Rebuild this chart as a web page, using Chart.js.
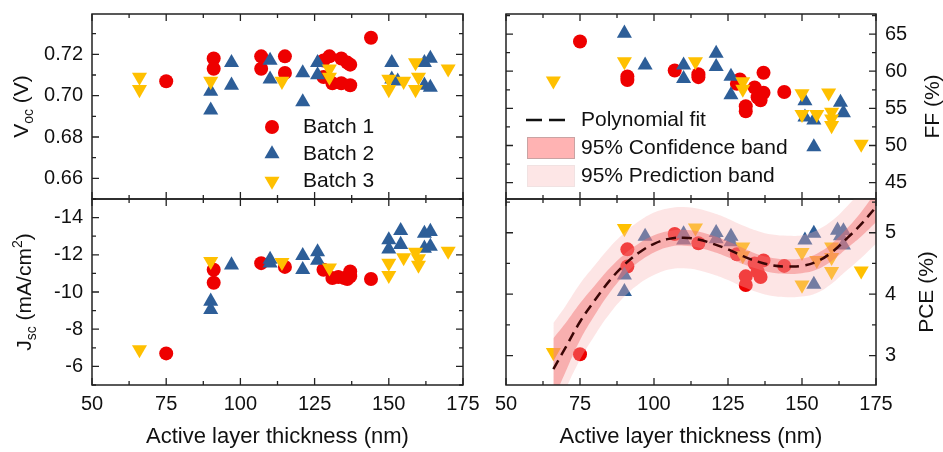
<!DOCTYPE html>
<html>
<head>
<meta charset="utf-8">
<title>Thickness series</title>
<script src="https://cdn.jsdelivr.net/npm/chart.js@4.4.0/dist/chart.umd.min.js"></script>
<style>
  body { margin: 0; background: #fff; }
  #wrap { position: relative; width: 943px; height: 452px; }
  #wrap canvas { position: absolute; left: 0; top: 0; }
</style>
</head>
<body>
<div id="wrap">
  <canvas id="voc-chart" width="943" height="452"></canvas>
  <canvas id="ff-chart" width="943" height="452"></canvas>
  <canvas id="jsc-chart" width="943" height="452"></canvas>
  <canvas id="pce-chart" width="943" height="452"></canvas>
</div>
<script>
// ---- data: [thickness (nm), value] ----
const batchNames = ['Batch 1', 'Batch 2', 'Batch 3'];

const voc1 = [[75,0.707],[91,0.718],[91,0.713],[107,0.719],[107,0.713],[115,0.719],[115,0.711],[128,0.717],[128,0.709],[130,0.719],[131,0.706],[134,0.718],[134,0.706],[136,0.716],[137,0.715],[137,0.705],[144,0.728]];
const voc2 = [[90,0.702],[90,0.693],[97,0.716],[97,0.705],[110,0.717],[110,0.708],[121,0.711],[121,0.697],[126,0.716],[126,0.710],[151,0.716],[151,0.708],[153,0.707],[162,0.716],[164,0.718],[162,0.705],[164,0.704]];
const voc3 = [[66,0.709],[66,0.703],[90,0.707],[114,0.707],[130,0.713],[130,0.709],[150,0.708],[150,0.703],[155,0.707],[159,0.716],[160,0.709],[159,0.703],[170,0.713]];

const ff1 = [[75,64],[91,59.3],[91,58.8],[107,60.1],[115,59.6],[115,59.2],[128,58.3],[129,58.9],[131,55.3],[131,54.6],[134,57.8],[135,56.5],[136,56.1],[137,59.8],[137,57.1],[144,57.2]];
const ff2 = [[90,65.1],[97,60.8],[110,60.8],[110,59],[121,62.4],[121,60.6],[126,59.3],[126,56.8],[151,56],[151,53.8],[154,53.4],[154,49.8],[163,55.8],[164,54.4]];
const ff3 = [[66,58.7],[90,61.3],[114,61.3],[130,58.6],[130,57.6],[150,57],[150,54.2],[155,54.2],[159,57.1],[160,54.5],[160,53.6],[160,52.7],[170,50.2]];

const jsc1 = [[75,-6.7],[91,-11.2],[91,-10.5],[107,-11.55],[115,-11.35],[128,-11.2],[131,-10.75],[133,-10.8],[135,-10.75],[136,-10.7],[137,-11.1],[137,-10.85],[144,-10.7]];
const jsc2 = [[90,-9.5],[90,-9.05],[97,-11.45],[110,-11.75],[110,-11.55],[121,-11.95],[121,-11.2],[126,-12.15],[126,-11.7],[150,-12.8],[150,-12.3],[154,-13.3],[154,-12.55],[162,-13.15],[164,-13.25],[162,-12.35],[164,-12.45]];
const jsc3 = [[66,-6.9],[90,-11.65],[114,-11.6],[130,-11.3],[150,-11.55],[150,-10.9],[155,-11.85],[159,-12.15],[160,-11.8],[160,-11.45],[170,-12.2]];

const pce1 = [[75,3.02],[91,4.73],[91,4.45],[107,4.98],[115,4.83],[128,4.65],[131,4.29],[131,4.15],[134,4.5],[135,4.37],[136,4.28],[137,4.55],[144,4.46]];
const pce2 = [[90,4.31],[90,4.04],[97,4.94],[110,4.98],[110,4.88],[121,5.0],[121,4.9],[126,4.94],[126,4.85],[151,4.88],[154,4.99],[154,4.16],[162,5.04],[164,5.03],[164,4.8],[163,4.95]];
const pce3 = [[66,3.05],[90,5.07],[114,5.08],[130,4.77],[130,4.63],[150,4.68],[150,4.15],[155,4.55],[160,4.77],[160,4.6],[160,4.37],[170,4.38]];

// polynomial fit and bands on PCE, sampled from the figure
const fitX      = [66, 70, 75, 80, 85, 90, 95, 100, 105, 110, 115, 120, 125, 130, 135, 140, 145, 150, 155, 160, 165, 170, 175];
const fitY      = [2.78, 3.12, 3.55, 3.9, 4.22, 4.48, 4.68, 4.82, 4.9, 4.92, 4.89, 4.82, 4.73, 4.62, 4.53, 4.47, 4.45, 4.46, 4.53, 4.68, 4.9, 5.14, 5.42];
const confUpper = [3.28, 3.52, 3.85, 4.14, 4.42, 4.65, 4.83, 4.96, 5.03, 5.05, 5.02, 4.95, 4.86, 4.75, 4.65, 4.59, 4.57, 4.58, 4.66, 4.82, 5.06, 5.34, 5.67];
const confLower = [2.28, 2.72, 3.25, 3.66, 4.02, 4.31, 4.53, 4.68, 4.77, 4.79, 4.76, 4.69, 4.6, 4.49, 4.41, 4.35, 4.33, 4.34, 4.4, 4.54, 4.74, 4.94, 5.17];
const predUpper = [3.53, 3.8, 4.17, 4.47, 4.76, 5.0, 5.19, 5.33, 5.4, 5.42, 5.39, 5.32, 5.23, 5.12, 5.03, 4.97, 4.95, 4.96, 5.04, 5.19, 5.42, 5.69, 6.02];
const predLower = [2.03, 2.44, 2.93, 3.33, 3.68, 3.96, 4.17, 4.31, 4.4, 4.42, 4.39, 4.32, 4.23, 4.12, 4.03, 3.97, 3.95, 3.96, 4.02, 4.17, 4.38, 4.59, 4.82];

// tick labels
const xTicks = [50, 75, 100, 125, 150, 175];
const vocTicks = [0.66, 0.68, 0.70, 0.72];
const jscTicks = [-14, -12, -10, -8, -6];
const ffTicks = [45, 50, 55, 60, 65];
const pceTicks = [3, 4, 5];

const FONT = 'Arial, "Liberation Sans", sans-serif';
const RED = '#ee0000';
const BLUE = '#2d5e98';
const YELLOW = '#ffc000';

function batchSets(d1, d2, d3) {
    return [
        { label: batchNames[0], data: d1, pointStyle: 'circle', pointRadius: 7, backgroundColor: RED, borderColor: RED, borderWidth: 0, order: 5 },
        { label: batchNames[1], data: d2, pointStyle: 'triangle', pointRadius: 8.7, backgroundColor: BLUE, borderColor: BLUE, borderWidth: 0, order: 4 },
        { label: batchNames[2], data: d3, pointStyle: 'triangle', pointRotation: 180, pointRadius: 8.7, backgroundColor: YELLOW, borderColor: YELLOW, borderWidth: 0, order: 3 }
    ];
}

function line(ys) {
    return fitX.map((x, i) => ({ x: x, y: ys[i] }));
}

function drawRich(ctx, parts, cx, cy, size) {
    ctx.save();
    ctx.translate(cx, cy);
    ctx.rotate(-Math.PI / 2);
    const small = Math.round(size * 0.68);
    let total = 0;
    parts.forEach(p => {
        ctx.font = ((p.sub || p.sup) ? small : size) + 'px ' + FONT;
        p.w = ctx.measureText(p.t).width;
        total += p.w;
    });
    let x = -total / 2;
    ctx.textAlign = 'left';
    ctx.textBaseline = 'alphabetic';
    parts.forEach(p => {
        ctx.font = ((p.sub || p.sup) ? small : size) + 'px ' + FONT;
        const dy = p.sub ? size * 0.25 : (p.sup ? -size * 0.4 : 0);
        ctx.fillText(p.t, x, size * 0.36 + dy);
        x += p.w;
    });
    ctx.restore();
}

// frame, inward ticks on all four sides, tick labels and titles
const panelPlugin = {
    id: 'panel',
    afterDraw(chart, args, o) {
        const ctx = chart.ctx;
        const a = chart.chartArea;
        const xs = chart.scales.x;
        const ys = chart.scales.y;
        ctx.save();
        ctx.strokeStyle = '#222';
        ctx.lineWidth = 1.3;
        ctx.beginPath();
        for (let v = 50; v <= 175.01; v += 12.5) {
            const p = xs.getPixelForValue(v);
            const len = xTicks.includes(v) ? 7 : 4;
            ctx.moveTo(p, a.bottom); ctx.lineTo(p, a.bottom - len);
            ctx.moveTo(p, a.top); ctx.lineTo(p, a.top + len);
        }
        const lo = Math.ceil(ys.min / o.yMinor - 1e-6), hi = Math.floor(ys.max / o.yMinor + 1e-6);
        for (let k = lo; k <= hi; k++) {
            const v = +(k * o.yMinor).toFixed(4);
            const p = ys.getPixelForValue(v);
            const len = o.yTicks.some(t => Math.abs(t - v) < 1e-6) ? 7 : 4;
            ctx.moveTo(a.left, p); ctx.lineTo(a.left + len, p);
            ctx.moveTo(a.right, p); ctx.lineTo(a.right - len, p);
        }
        ctx.stroke();
        ctx.lineWidth = 1.5;
        ctx.strokeRect(a.left, a.top, a.right - a.left, a.bottom - a.top);

        ctx.fillStyle = '#111';
        ctx.font = '20px ' + FONT;
        ctx.textBaseline = 'middle';
        if (o.xLabels) {
            ctx.textAlign = 'center';
            xTicks.forEach(v => ctx.fillText(String(v), xs.getPixelForValue(v), a.bottom + 19));
            ctx.font = '22px ' + FONT;
            ctx.fillText('Active layer thickness (nm)', (a.left + a.right) / 2, a.bottom + 52);
            ctx.font = '20px ' + FONT;
        }
        if (o.ySide === 'left') {
            ctx.textAlign = 'right';
            o.yTicks.forEach(v => ctx.fillText(o.fmt(v), a.left - 9, ys.getPixelForValue(v)));
        } else {
            ctx.textAlign = 'left';
            o.yTicks.forEach(v => ctx.fillText(o.fmt(v), a.right + 9, ys.getPixelForValue(v)));
        }
        drawRich(ctx, o.title, o.titleX, (a.top + a.bottom) / 2, 21);
        ctx.restore();
    }
};

const batchLegend = {
    id: 'batchLegend',
    afterDraw(chart) {
        const ctx = chart.ctx;
        const styles = [
            { pointStyle: 'circle', rotation: 0, radius: 7, color: RED },
            { pointStyle: 'triangle', rotation: 0, radius: 8.7, color: BLUE },
            { pointStyle: 'triangle', rotation: 180, radius: 8.7, color: YELLOW }
        ];
        ctx.save();
        ctx.font = '21px ' + FONT;
        ctx.textBaseline = 'middle';
        ctx.textAlign = 'left';
        styles.forEach((s, i) => {
            const y = 127 + i * 27;
            ctx.fillStyle = s.color;
            ctx.strokeStyle = s.color;
            Chart.helpers.drawPoint(ctx, { pointStyle: s.pointStyle, rotation: s.rotation, radius: s.radius, borderWidth: 0 }, 272, y);
            ctx.fillStyle = '#111';
            ctx.fillText(batchNames[i], 303, y);
        });
        ctx.restore();
    }
};

const fitLegend = {
    id: 'fitLegend',
    afterDraw(chart) {
        const ctx = chart.ctx;
        ctx.save();
        ctx.strokeStyle = '#111';
        ctx.lineWidth = 2.5;
        ctx.setLineDash([16, 7]);
        ctx.beginPath();
        ctx.moveTo(526, 120);
        ctx.lineTo(568, 120);
        ctx.stroke();
        ctx.setLineDash([]);
        ctx.lineWidth = 1;
        ctx.fillStyle = '#ffb3b3';
        ctx.strokeStyle = '#c9a3a3';
        ctx.fillRect(527, 137, 48, 22);
        ctx.strokeRect(527.5, 137.5, 47, 21);
        ctx.fillStyle = '#fde6e6';
        ctx.strokeStyle = '#f1e2e2';
        ctx.fillRect(527, 165, 48, 22);
        ctx.strokeRect(527.5, 165.5, 47, 21);
        ctx.fillStyle = '#111';
        ctx.font = '21px ' + FONT;
        ctx.textBaseline = 'middle';
        ctx.textAlign = 'left';
        ctx.fillText('Polynomial fit', 581, 120);
        ctx.fillText('95% Confidence band', 581, 148);
        ctx.fillText('95% Prediction band', 581, 176);
        ctx.restore();
    }
};

function makeChart(id, datasets, area, yRange, reverse, panel, extra) {
    const ctx = document.getElementById(id).getContext('2d');
    return new Chart(ctx, {
        type: 'scatter',
        data: { datasets: datasets },
        options: {
            responsive: false,
            animation: false,
            events: [],
            layout: { padding: { left: area[0], top: area[1], right: 943 - area[2], bottom: 452 - area[3] } },
            scales: {
                x: { type: 'linear', min: 50, max: 175, display: false },
                y: { type: 'linear', min: yRange[0], max: yRange[1], reverse: reverse, display: false }
            },
            plugins: {
                legend: { display: false },
                tooltip: { enabled: false },
                panel: panel
            }
        },
        plugins: [panelPlugin].concat(extra)
    });
}

const bandStyle = { showLine: true, pointRadius: 0, borderWidth: 0, tension: 0.4 };

makeChart('voc-chart', batchSets(voc1, voc2, voc3), [92, 14, 463, 199], [0.65, 0.7395], false, {
    yTicks: vocTicks, yMinor: 0.01, ySide: 'left', fmt: v => v.toFixed(2), xLabels: false,
    title: [{ t: 'V' }, { t: 'oc', sub: true }, { t: ' (V)' }], titleX: 20
}, [batchLegend]);

makeChart('jsc-chart', batchSets(jsc1, jsc2, jsc3), [92, 199, 463, 385], [-15, -5], true, {
    yTicks: jscTicks, yMinor: 1, ySide: 'left', fmt: v => String(v), xLabels: true,
    title: [{ t: 'J' }, { t: 'sc', sub: true }, { t: ' (mA/cm' }, { t: '2', sup: true }, { t: ')' }], titleX: 23
}, []);

makeChart('ff-chart', batchSets(ff1, ff2, ff3), [506, 14, 876, 199], [42.8, 67.7], false, {
    yTicks: ffTicks, yMinor: 2.5, ySide: 'right', fmt: v => String(v), xLabels: false,
    title: [{ t: 'FF (%)' }], titleX: 931
}, [fitLegend]);

makeChart('pce-chart', [
    Object.assign({ label: 'Polynomial fit', data: line(fitY), borderColor: '#3a0606', borderWidth: 2.5, borderDash: [10, 6], order: 0 }, { showLine: true, pointRadius: 0, tension: 0.4 }),
    Object.assign({ label: 'conf hi', data: line(confUpper), fill: '+1', backgroundColor: 'rgba(245,110,110,0.45)', order: 1 }, bandStyle),
    Object.assign({ label: 'conf lo', data: line(confLower), order: 1 }, bandStyle),
    Object.assign({ label: 'pred hi', data: line(predUpper), fill: '+1', backgroundColor: 'rgba(250,180,180,0.35)', order: 2 }, bandStyle),
    Object.assign({ label: 'pred lo', data: line(predLower), order: 2 }, bandStyle)
].concat(batchSets(pce1, pce2, pce3)), [506, 199, 876, 385], [2.52, 5.55], false, {
    yTicks: pceTicks, yMinor: 0.5, ySide: 'right', fmt: v => String(v), xLabels: true,
    title: [{ t: 'PCE (%)' }], titleX: 925
}, []);
</script>
</body>
</html>
